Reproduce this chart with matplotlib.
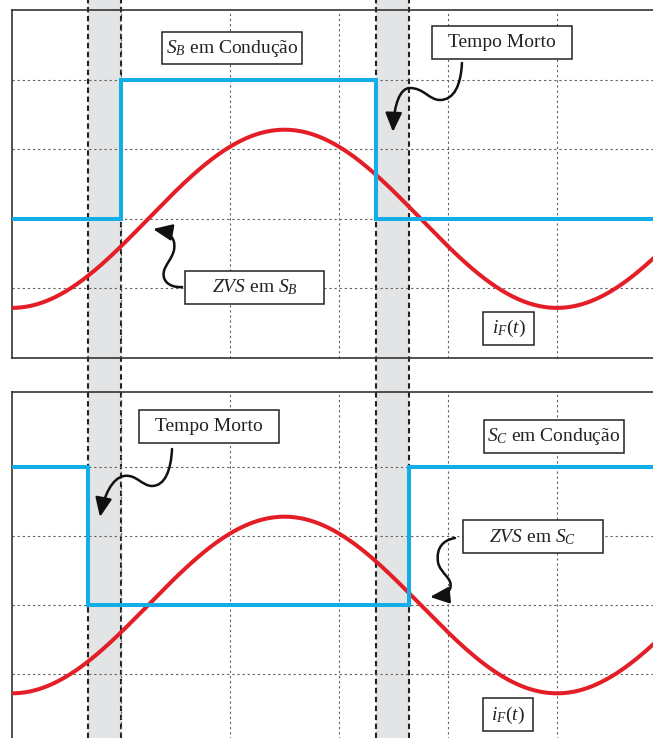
import numpy as np
import matplotlib
matplotlib.use("Agg")
import matplotlib.pyplot as plt
from matplotlib.patches import Rectangle, FancyArrowPatch
from matplotlib.path import Path

plt.rcParams['font.family'] = ['Liberation Serif', 'DejaVu Serif']
plt.rcParams['mathtext.fontset'] = 'custom'
plt.rcParams['mathtext.rm'] = 'Liberation Serif'
plt.rcParams['mathtext.it'] = 'Liberation Serif:italic'

# time axis in grid divisions, levels in grid divisions
t_end = 6.0
dead_bands = [(0.70, 1.00), (3.34, 3.64)]

# gate signals (step waveforms)
sb_t = [0.0, 1.00, 1.00, 3.34, 3.34, t_end]
sb_v = [2, 2, 4, 4, 2, 2]
sc_t = [0.0, 0.70, 0.70, 3.64, 3.64, t_end]
sc_v = [4, 4, 2, 2, 4, 4]

# inductor current i_F(t): sinusoid around level 2
i_amp = 1.28
i_period = 5.0
i_offset = 2.0

BLUE = '#13aee8'
RED = '#e41e26'
BAND = '#e3e4e6'

W, H = 653, 738
fig = plt.figure(figsize=(W / 100, H / 100), dpi=100)
fig.patch.set_facecolor('white')

# background layer: dead-time bands and dashed markers run over the whole figure
x0_px, dx_px = 12, 109
bg = fig.add_axes([0, 0, 1, 1], zorder=0)
bg.set_xlim(-x0_px / dx_px, (W - x0_px) / dx_px)
bg.set_ylim(0, 1)
bg.axis('off')
for a, b in dead_bands:
    bg.axvspan(a, b, color=BAND, lw=0)
    for xv in (a, b):
        bg.axvline(xv, color='#222222', lw=1.5, ls=(0, (2.6, 1.7)))


def make_panel(rect, ytop):
    ax = fig.add_axes(rect, zorder=1)
    ax.set_facecolor('none')
    ax.set_xlim(0, t_end)
    ax.set_ylim(0, ytop)
    ax.set_xticks(range(1, 6))
    ax.set_yticks(range(1, 5))
    ax.tick_params(length=0, labelbottom=False, labelleft=False)
    ax.grid(True, color='#606060', lw=0.8, ls=(0, (2, 2.6)))
    for s in ax.spines.values():
        s.set_color('#333333')
        s.set_linewidth(1.2)
    return ax


def label_box(ax, xc, yc, w, h, text):
    ax.add_patch(Rectangle((xc - w / 2, yc - h / 2), w, h, fc='white',
                           ec='#222222', lw=1.1, zorder=5))
    ax.text(xc, yc, text, ha='center', va='center', fontsize=14,
            color='#222222', zorder=6)


def curly_arrow(ax, pts):
    codes = [Path.MOVETO] + [Path.CURVE4] * (len(pts) - 1)
    arr = FancyArrowPatch(path=Path(pts, codes),
                          arrowstyle='-|>,head_length=1.15,head_width=0.5',
                          mutation_scale=10, lw=1.8, color='#111111', zorder=6)
    ax.add_patch(arr)


t = np.linspace(0, t_end, 600)
i_f = i_offset - i_amp * np.cos(2 * np.pi * t / i_period)

# upper panel: S_B
top = make_panel([x0_px / W, (H - 358) / H, 654 / W, 348 / H], 5)
top.plot(t, i_f, color=RED, lw=2.9, zorder=3)
top.plot(sb_t, sb_v, color=BLUE, lw=2.9, zorder=4, solid_joinstyle='miter')
label_box(top, 2.018, 4.454, 1.284, 0.474, r'$S_B$ em Condução')
label_box(top, 4.495, 4.540, 1.284, 0.474, 'Tempo Morto')
label_box(top, 2.225, 1.013, 1.275, 0.474, r'$ZVS$ em $S_B$')
label_box(top, 4.555, 0.424, 0.468, 0.474, r'$i_F(t)$')
curly_arrow(top, [(4.128, 4.239), (4.119, 3.922), (4.055, 3.707), (3.927, 3.707),
                  (3.826, 3.707), (3.780, 3.879), (3.651, 3.879),
                  (3.560, 3.879), (3.505, 3.650), (3.495, 3.247)])
curly_arrow(top, [(1.560, 1.020), (1.431, 1.006), (1.358, 1.135), (1.404, 1.293),
                  (1.450, 1.437), (1.505, 1.508), (1.486, 1.667),
                  (1.468, 1.782), (1.394, 1.825), (1.294, 1.853)])

# lower panel: S_C (runs past the bottom edge)
bot = make_panel([x0_px / W, (H - 743) / H, 654 / W, 351 / H], 5.087)
bot.plot(t, i_f, color=RED, lw=2.9, zorder=3)
bot.plot(sc_t, sc_v, color=BLUE, lw=2.9, zorder=4, solid_joinstyle='miter')
label_box(bot, 1.807, 4.587, 1.284, 0.478, 'Tempo Morto')
label_box(bot, 4.972, 4.442, 1.284, 0.478, r'$S_C$ em Condução')
label_box(bot, 4.780, 2.986, 1.284, 0.478, r'$ZVS$ em $S_C$')
label_box(bot, 4.550, 0.406, 0.460, 0.478, r'$i_F(t)$')
curly_arrow(bot, [(1.468, 4.261), (1.459, 3.957), (1.404, 3.725), (1.284, 3.725),
                  (1.193, 3.725), (1.138, 3.899), (1.028, 3.870),
                  (0.917, 3.841), (0.844, 3.580), (0.807, 3.275)])
curly_arrow(bot, [(4.064, 2.971), (3.954, 2.942), (3.890, 2.826), (3.908, 2.623),
                  (3.927, 2.449), (4.055, 2.391), (4.018, 2.232),
                  (3.991, 2.159), (3.927, 2.130), (3.835, 2.116)])

fig.savefig('out.png', dpi=100)
